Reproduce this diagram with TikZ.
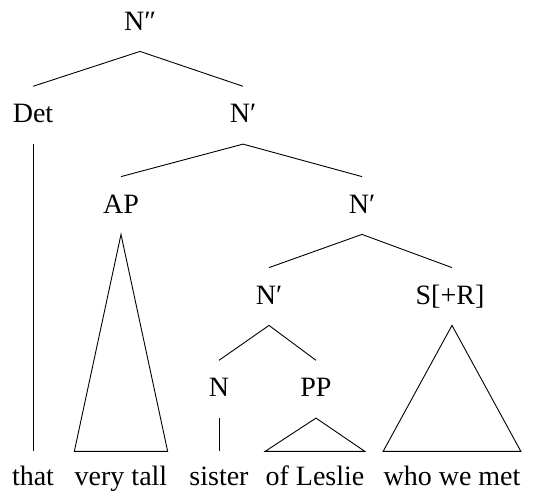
\documentclass[tikz,border=0pt]{standalone}
\usepackage{fontspec}
\setmainfont{Liberation Serif}
\usetikzlibrary{positioning}

\begin{document}
\begin{tikzpicture}[
  x=0.5pt, y=-0.5pt,
  cat/.style={anchor=base, inner xsep=0pt, inner ysep=4pt, text height=14pt, text depth=6.5pt,
              font=\fontsize{14}{17}\selectfont},
  leaf/.style={anchor=base, inner xsep=0pt, inner ysep=4pt, text height=13pt, text depth=3pt,
               font=\fontsize{14}{17}\selectfont},
  branch/.style={line width=0.45pt}
]
\useasboundingbox (0,0) rectangle (548,495);

% categories
\node[cat] (nbarbar) at (140,30) {N″};
\node[cat] (det) at (33,122.7) {Det};
\node[cat] (nbarA) at (243,122.7) {N′};
\node[cat] (ap) at (121,213) {AP};
\node[cat] (nbarB) at (362,213) {N′};
\node[cat] (nbarC) at (269,304) {N′};
\node[cat] (srel) at (450,304) {S[+R]};
\node[cat] (noun) at (219,396.7) {N};
\node[cat] (pp) at (316,396.7) {PP};

% words
\node[leaf] (that) at (33,485.7) {that};
\node[leaf] (verytall) at (121,485.7) {very tall};
\node[leaf] (sister) at (219,485.7) {sister};
\node[leaf] (ofleslie) at (315,485.7) {of Leslie};
\node[leaf] (whowemet) at (452,485.7) {who we met};

\draw[branch] (det.north) -- (nbarbar.south) -- (nbarA.north);
\draw[branch] (ap.north) -- (nbarA.south) -- (nbarB.north);
\draw[branch] (nbarC.north) -- (nbarB.south) -- (srel.north -| whowemet);
\draw[branch] (noun.north) -- (nbarC.south) -- (pp.north);

\draw[branch] (det.south) -- (that.north);
\draw[branch] (noun.south) -- (sister.north);
\draw[branch] (ap.south) -- (verytall.north west) -- (verytall.north east) -- cycle;
\draw[branch] (pp.south) -- (ofleslie.north west) -- (ofleslie.north east) -- cycle;
\draw[branch] (srel.south -| whowemet) -- (whowemet.north west) -- (whowemet.north east) -- cycle;
\end{tikzpicture}
\end{document}
